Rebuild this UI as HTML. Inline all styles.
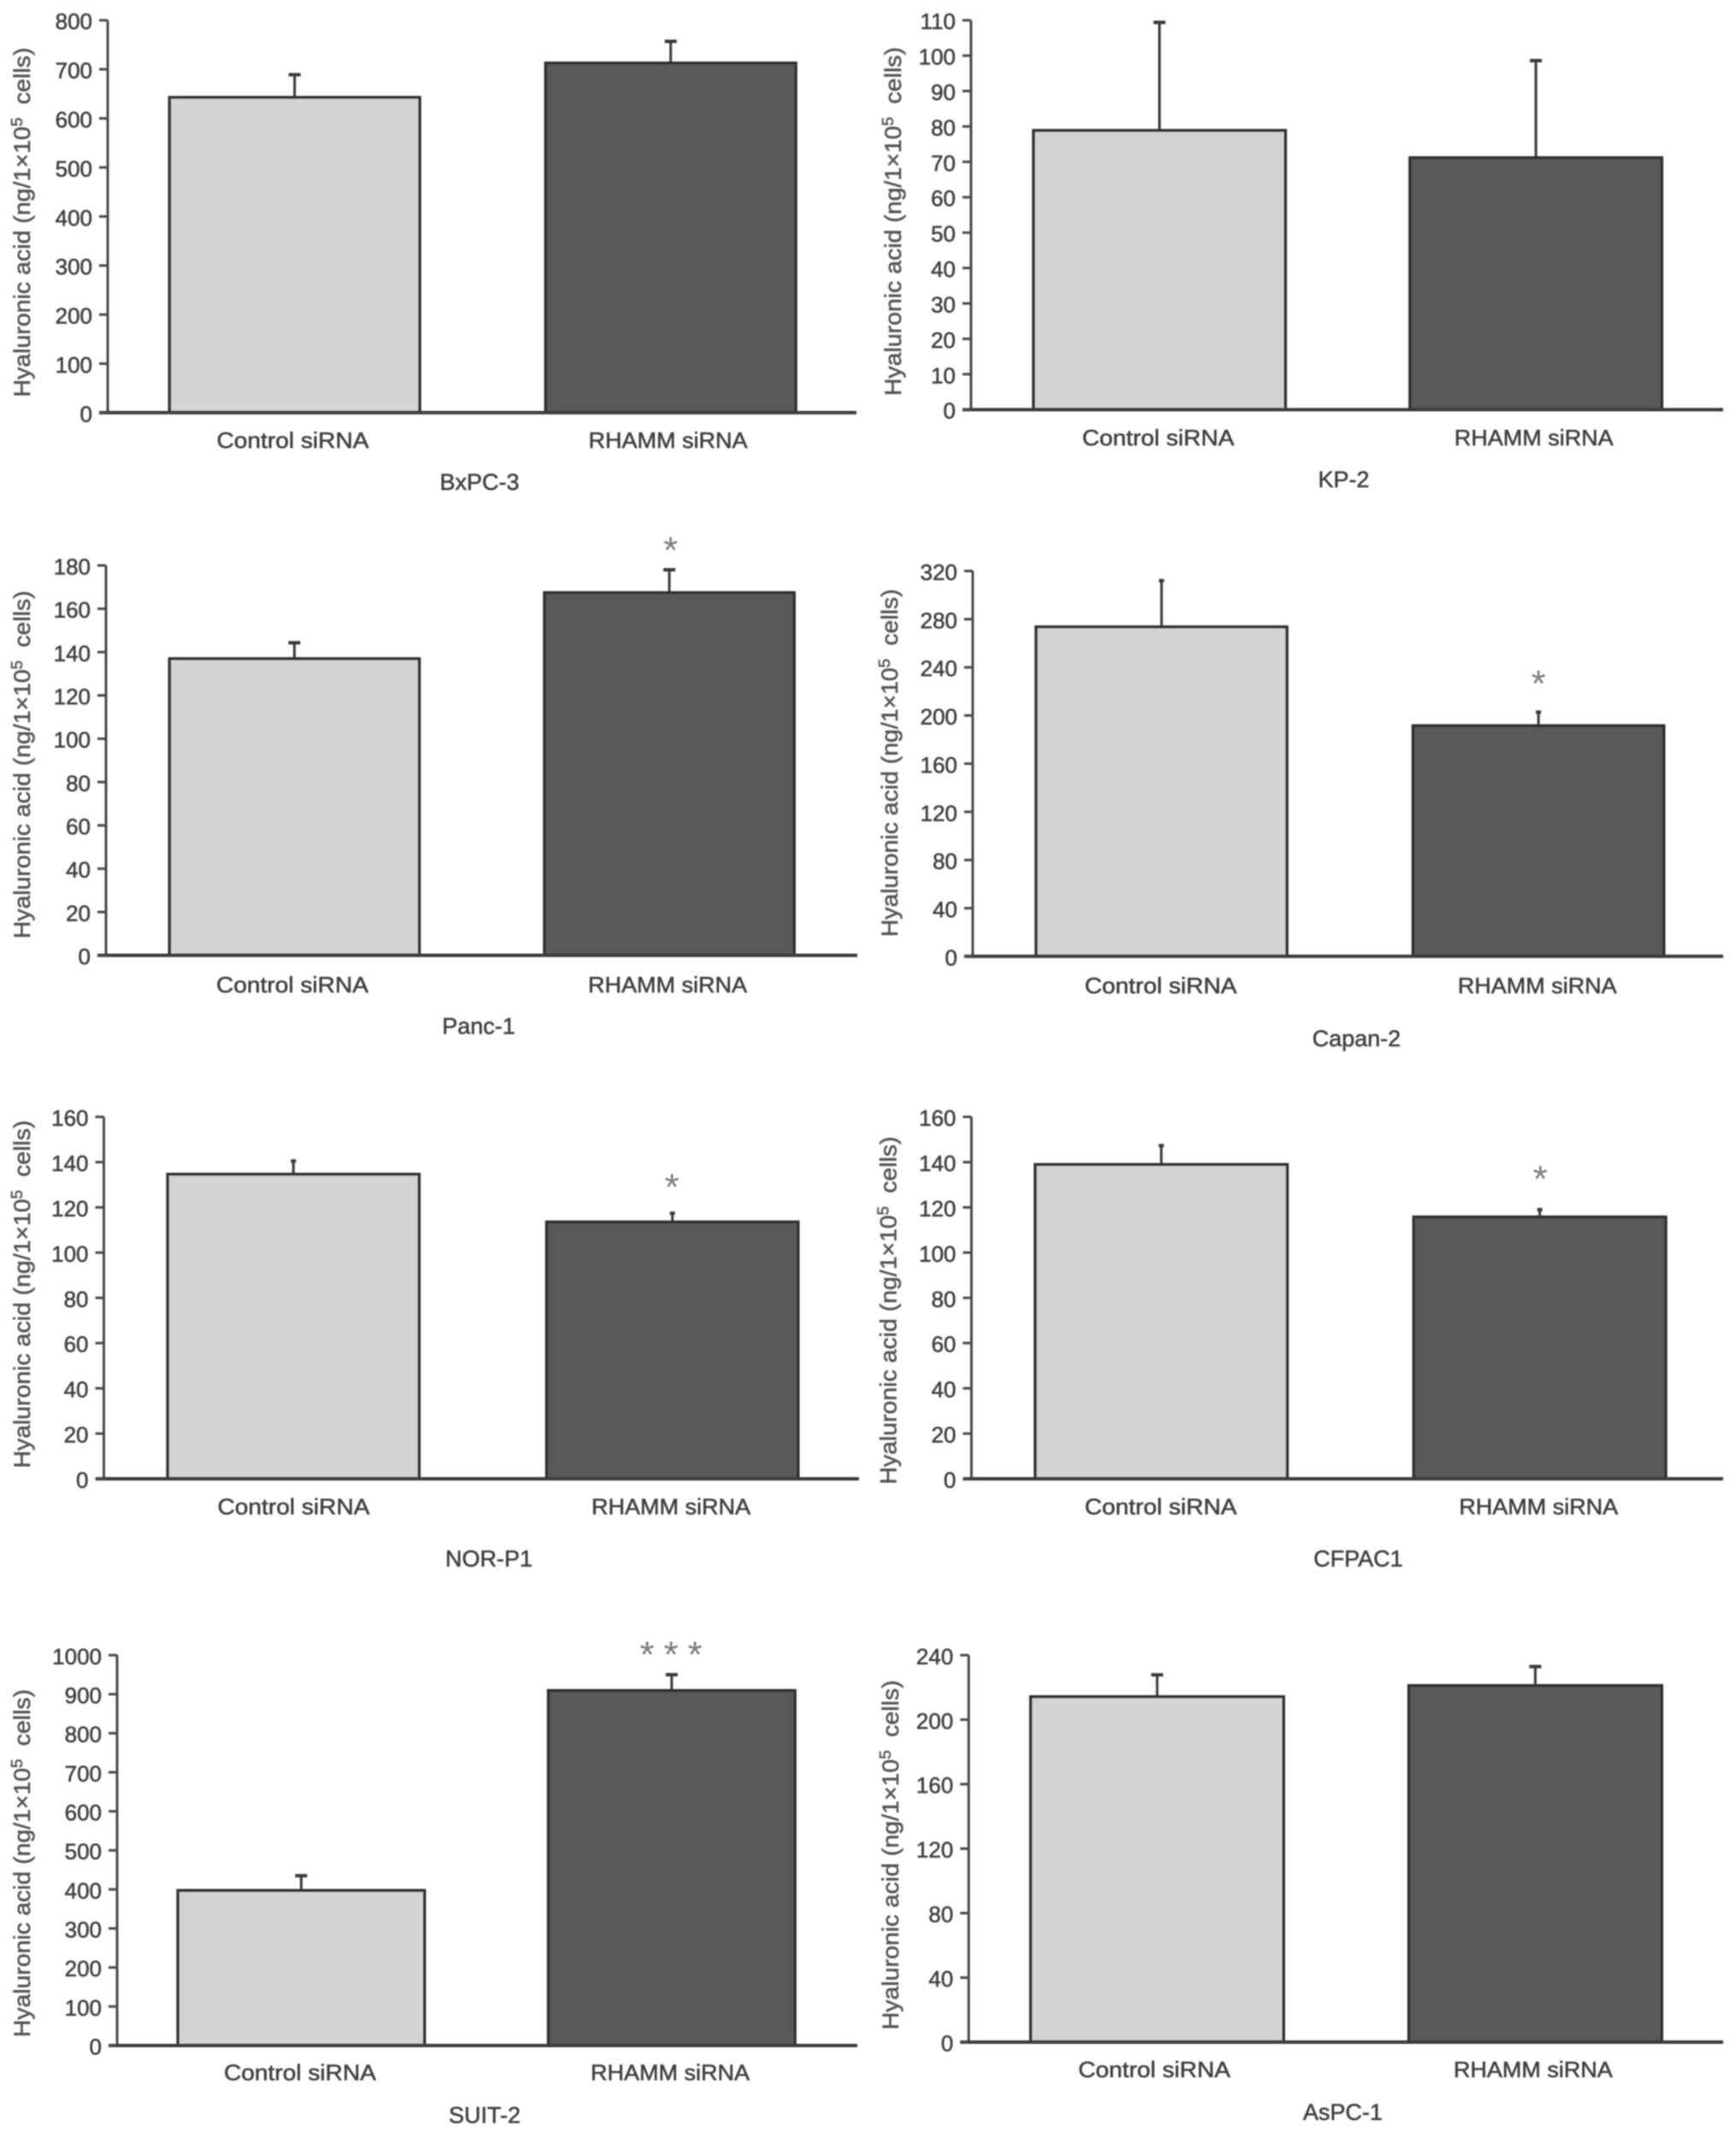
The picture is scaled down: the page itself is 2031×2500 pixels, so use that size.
<!DOCTYPE html>
<html lang="en">
<head>
<meta charset="utf-8">
<title>Hyaluronic acid production after RHAMM siRNA</title>
<style>
html,body{margin:0;padding:0;background:#fff;width:2031px;height:2500px;overflow:hidden}
svg{display:block;filter:blur(0.9px)}
text{font-family:"Liberation Sans",Arial,sans-serif;fill:#404040;stroke:#404040;stroke-width:0.55px}
</style>
</head>
<body>
<svg id="figure" xmlns="http://www.w3.org/2000/svg" width="2031" height="2500" viewBox="0 0 2031 2500"></svg>
<script>
const panelNames = ["BxPC-3","KP-2","Panc-1","Capan-2","NOR-P1","CFPAC1","SUIT-2","AsPC-1"];
const categories = ["Control siRNA","RHAMM siRNA"];
const controlValues = [643,78.9,137,273.7,134.7,139,397.5,214.3];
const rhammValues = [713,71.2,167.5,191.6,113.6,115.8,909.6,221.2];
const controlErrorTops = [689,109.4,144.3,312,140.5,147.3,435,227.8];
const rhammErrorTops = [757,98.6,178,202.8,117.4,119,950,232.9];
const significanceMarks = ["","","*","*","*","*","***",""];
const ticksBxPC3 = ["0","100","200","300","400","500","600","700","800"];
const ticksKP2 = ["0","10","20","30","40","50","60","70","80","90","100","110"];
const ticksPanc1 = ["0","20","40","60","80","100","120","140","160","180"];
const ticksCapan2 = ["0","40","80","120","160","200","240","280","320"];
const ticksNORP1 = ["0","20","40","60","80","100","120","140","160"];
const ticksCFPAC1 = ["0","20","40","60","80","100","120","140","160"];
const ticksSUIT2 = ["0","100","200","300","400","500","600","700","800","900","1000"];
const ticksAsPC1 = ["0","40","80","120","160","200","240"];
const tickLabelSets = [ticksBxPC3,ticksKP2,ticksPanc1,ticksCapan2,ticksNORP1,ticksCFPAC1,ticksSUIT2,ticksAsPC1];

/* Panel frames: page layout only, no data values. */
const frames = [
 {ax:126,top:23.7,base:482.8,right:1002,b0:198.2,step:440,bw:293,cap:14,lx:[342.5,781.5],ly:515,tx:561,ty:564,yx:26,yc:260,yl:409,sx:0,sy:0},
 {ax:1136,top:23.7,base:479.2,right:2016,b0:1209,step:440.4,bw:295,cap:14,lx:[1355,1794.5],ly:512,tx:1572,ty:561,yx:1045,yc:259,yl:408,sx:0,sy:0},
 {ax:124,top:661.5,base:1117.6,right:1003,b0:198.2,step:438.6,bw:292.5,cap:14,lx:[342,781],ly:1152,tx:560,ty:1200.6,yx:26,yc:894.5,yl:407,sx:784.5,sy:633.6},
 {ax:1138,top:668,base:1118.8,right:2016,b0:1212,step:441,bw:293.8,cap:6,lx:[1358,1798.5],ly:1153,tx:1587,ty:1215,yx:1041,yc:892.5,yl:407,sx:1799.9,sy:789.6},
 {ax:121.5,top:1306.6,base:1730,right:1005,b0:196,step:443.4,bw:294.5,cap:6,lx:[343.5,785],ly:1762.5,tx:572,ty:1823.6,yx:26,yc:1514,yl:407,sx:786,sy:1378.5},
 {ax:1136.5,top:1306.6,base:1730,right:2016,b0:1211,step:442.8,bw:295.2,cap:6,lx:[1358,1800],ly:1762.5,tx:1589,ty:1823.6,yx:1039.6,yc:1533,yl:407,sx:1802,sy:1369},
 {ax:137,top:1936.3,base:2393,right:1003,b0:208,step:433.4,bw:288.8,cap:14,lx:[351,784],ly:2424.6,tx:567,ty:2474.3,yx:26,yc:2179.7,yl:407,sx:785,sy:1925.7},
 {ax:1133.3,top:1936.3,base:2389,right:2016,b0:1205.7,step:442.4,bw:296.2,cap:14,lx:[1350.5,1793.6],ly:2420.8,tx:1571,ty:2471,yx:1042,yc:2170,yl:409,sx:0,sy:0}
];
const categoryWidths = [178,186];

const NS = "http://www.w3.org/2000/svg";
const figure = document.getElementById("figure");

function add(parent, tag, props, content) {
  const el = document.createElementNS(NS, tag);
  for (const key in props) el.setAttribute(key, props[key]);
  if (content !== undefined) el.textContent = content;
  parent.appendChild(el);
  return el;
}
function yScale(frame, maxValue, value) {
  return frame.base - (value / maxValue) * (frame.base - frame.top);
}
function xBar(frame, index) {
  return frame.b0 + index * frame.step;
}

function drawPanel(i) {
  const f = frames[i];
  const labels = tickLabelSets[i];
  const maxValue = Number(labels[labels.length - 1]);
  const slug = panelNames[i].toLowerCase();
  const series = [
    {value: controlValues[i], err: controlErrorTops[i], fill: "#d3d3d3", slug: "control"},
    {value: rhammValues[i], err: rhammErrorTops[i], fill: "#595959", slug: "rhamm"}
  ];

  const g = add(figure, "g", {});
  
  

  series.forEach(function (s, k) {
    const xc = xBar(f, k) + f.bw / 2;
    const yv = yScale(f, maxValue, s.value);
    const ye = yScale(f, maxValue, s.err);

    const stem = add(g, "line", {x1: xc, x2: xc, y1: yv, y2: ye, stroke: "#3a3a3a", "stroke-width": 3});
    
    

    const cap = add(g, "line", {x1: xc - f.cap / 2, x2: xc + f.cap / 2, y1: ye, y2: ye, stroke: "#3a3a3a", "stroke-width": 4});
    
    

    const bar = add(g, "rect", {x: xBar(f, k), y: yv, width: f.bw, height: f.base - yv, fill: s.fill, stroke: "#2e2e2e", "stroke-width": 3.2});
    
    
  });

  const yAxis = add(g, "line", {x1: f.ax, x2: f.ax, y1: f.top, y2: f.base, stroke: "#4a4a4a", "stroke-width": 3});
  
  

  const xAxis = add(g, "line", {x1: f.ax - 10, x2: f.right, y1: f.base, y2: f.base, stroke: "#3c3c3c", "stroke-width": 4});
  
  

  labels.forEach(function (label) {
    const y = yScale(f, maxValue, Number(label));

    const tick = add(g, "line", {x1: f.ax - 10, x2: f.ax, y1: y, y2: y, stroke: "#4a4a4a", "stroke-width": 3});
    
    

    const tickText = add(g, "text", {x: f.ax - 18, y: y + 10.5, "text-anchor": "end", "font-size": 26}, label);
    
    
  });

  categories.forEach(function (name, k) {
    const cat = add(g, "text", {
      x: f.lx[k], y: f.ly + 9, "text-anchor": "middle", "font-size": 26,
      textLength: categoryWidths[k], lengthAdjust: "spacingAndGlyphs"
    }, name);
    
    
  });

  const title = add(g, "text", {x: f.tx, y: f.ty + 9, "text-anchor": "middle", "font-size": 27}, panelNames[i]);
  
  

  const yTitle = add(g, "text", {
    transform: "translate(" + (f.yx + 9) + " " + f.yc + ") rotate(-90)",
    "text-anchor": "middle", "font-size": 27,
    textLength: f.yl, lengthAdjust: "spacingAndGlyphs"
  });
  yTitle.style.fill = "#555";
  yTitle.style.stroke = "#555";
  
  
  add(yTitle, "tspan", {}, "Hyaluronic acid (ng/1\u00d710");
  add(yTitle, "tspan", {dy: -9, "font-size": 18}, "5");
  add(yTitle, "tspan", {dy: 9, dx: 7}, " cells)");

  const marks = significanceMarks[i];
  for (let m = 0; m < marks.length; m++) {
    const offset = (m - (marks.length - 1) / 2) * 28;
    const star = add(g, "text", {x: f.sx + offset, y: f.sy + 25, "text-anchor": "middle", "font-size": 44}, marks[m]);
    star.style.fill = "#7d7d7d";
    star.style.stroke = "none";
    
    
  }
}

panelNames.forEach(function (_, i) { drawPanel(i); });
</script>
</body>
</html>
